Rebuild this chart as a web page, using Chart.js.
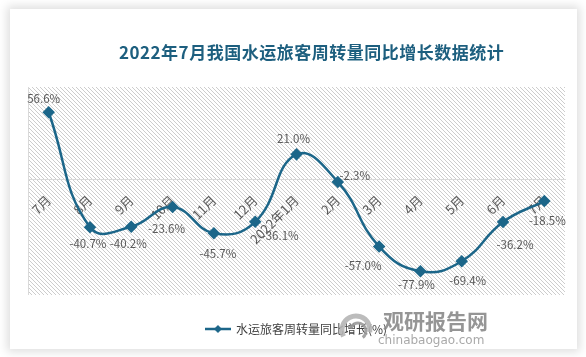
<!DOCTYPE html>
<html>
<head>
<meta charset="utf-8">
<script src="https://cdn.jsdelivr.net/npm/chart.js@4/dist/chart.umd.min.js"></script>
<style>
  html, body { margin: 0; padding: 0; background: #ffffff; }
  body { width: 586px; height: 357px; position: relative; overflow: hidden; }
  #card { position: absolute; left: 10px; top: 9px; width: 567px; height: 340px; background: #fff;
          box-shadow: 0 0 9px 3px rgba(0,0,0,0.13); }
  #card canvas { position: absolute; left: 0; top: 0; }
  #title { position: absolute; left: 119px; top: 41px; font: bold 17px "Noto Sans CJK SC", sans-serif;
           color: #1d5f7f; line-height: 22px; white-space: nowrap; letter-spacing: 0.5px; }
</style>
</head>
<body>
<div id="card"><canvas id="c" width="567" height="340"></canvas></div>
<div id="title">2022年7月我国水运旅客周转量同比增长数据统计</div>
<script>
// ---- data ----
const categories = ['7月','8月','9月','10月','11月','12月','2022年1月','2月','3月','4月','5月','6月','7月'];
const growthValues = [56.6, -40.7, -40.2, -23.6, -45.7, -36.1, 21.0, -2.3, -57.0, -77.9, -69.4, -36.2, -18.5];
const seriesName = '水运旅客周转量同比增长(%)';

const LINE = '#1c6689';

// label offsets (dx, dy) relative to each point, as in the reference
const labelOffsets = [[-5,-14],[-2,16],[-3,17],[-6,22],[4,20],[25,14],[-3,-16],[17,-6],[-16,19],[-4,13],[6,19],[12,23],[3,20]];

// hatch pattern
function makeHatch() {
  const t = document.createElement('canvas');
  t.width = 4; t.height = 4;
  const g = t.getContext('2d');
  g.fillStyle = '#ffffff'; g.fillRect(0,0,4,4);
  g.fillStyle = '#cdcdcd';
  for (let i = 0; i < 4; i++) g.fillRect(i, i, 1, 1);
  return t;
}
const hatchTile = makeHatch();

// legend icon: line with diamond
function makeLegendIcon() {
  const c = document.createElement('canvas');
  c.width = 26; c.height = 12;
  const g = c.getContext('2d');
  g.strokeStyle = LINE; g.lineWidth = 2.5;
  g.beginPath(); g.moveTo(0, 6); g.lineTo(26, 6); g.stroke();
  g.fillStyle = LINE;
  g.beginPath(); g.moveTo(13, 2); g.lineTo(17, 6); g.lineTo(13, 10); g.lineTo(9, 6); g.closePath(); g.fill();
  return c;
}
const legendIcon = makeLegendIcon();

const bgPlugin = {
  id: 'plotBg',
  beforeDraw(chart) {
    const {ctx, chartArea: a} = chart;
    ctx.save();
    ctx.fillStyle = ctx.createPattern(hatchTile, 'repeat');
    ctx.fillRect(a.left, a.top, a.right - a.left, a.bottom - a.top);
    ctx.strokeStyle = '#d9d9d9'; ctx.lineWidth = 1;
    ctx.beginPath(); ctx.moveTo(a.left + 0.5, a.top); ctx.lineTo(a.left + 0.5, a.bottom); ctx.stroke();
    ctx.restore();
  }
};

const labelPlugin = {
  id: 'valueLabels',
  afterDatasetsDraw(chart) {
    const {ctx} = chart;
    const meta = chart.getDatasetMeta(0);
    ctx.save();
    ctx.font = '11.5px "Noto Sans CJK SC", sans-serif';
    ctx.fillStyle = '#595959';
    ctx.textAlign = 'center';
    ctx.textBaseline = 'middle';
    meta.data.forEach((pt, i) => {
      const v = chart.data.datasets[0].data[i];
      const o = labelOffsets[i] || [0, -12];
      ctx.fillText(v.toFixed(1) + '%', pt.x + o[0], pt.y + o[1]);
    });
    ctx.restore();
  }
};

const watermarkPlugin = {
  id: 'watermark',
  afterDraw(chart) {
    const {ctx} = chart;
    ctx.save();
    ctx.globalAlpha = 0.9;
    // swirl logo
    ctx.strokeStyle = '#b5b5b5';
    ctx.lineWidth = 5;
    ctx.beginPath(); ctx.arc(346, 321, 14, Math.PI * 0.85, Math.PI * 2.05); ctx.stroke();
    ctx.strokeStyle = '#9a9a9a';
    ctx.lineWidth = 3;
    ctx.beginPath(); ctx.arc(348, 322, 8, Math.PI * 1.1, Math.PI * 2.3); ctx.stroke();
    ctx.fillStyle = '#8a8a8a';
    ctx.font = 'bold 21px "Noto Sans CJK SC", sans-serif';
    ctx.textAlign = 'left'; ctx.textBaseline = 'middle';
    ctx.fillText('观研报告网', 373, 312);
    ctx.fillStyle = '#a0a0a0';
    ctx.font = '12px "DejaVu Sans", sans-serif';
    ctx.fillText('chinabaogao.com', 368, 332);
    ctx.restore();
  }
};

new Chart(document.getElementById('c'), {
  type: 'line',
  data: {
    labels: categories,
    datasets: [{
      label: seriesName,
      data: growthValues,
      borderColor: LINE,
      backgroundColor: LINE,
      borderWidth: 2.5,
      tension: 0.45,
      pointStyle: 'rectRot',
      pointRadius: 4.5,
      pointBackgroundColor: LINE,
      pointBorderColor: LINE,
      fill: false
    }]
  },
  options: {
    responsive: false,
    animation: false,
    layout: { padding: { left: 18, right: 12, top: 78, bottom: 4 } },
    scales: {
      x: {
        type: 'category',
        offset: true,
        position: { y: 0 },
        grid: { display: false, drawTicks: false, tickLength: 0 },
        border: { display: true, color: '#d9d9d9', width: 1 },
        ticks: {
          autoSkip: false,
          maxRotation: 45, minRotation: 45,
          color: '#595959',
          padding: 13,
          font: { size: 13, family: '"Noto Sans CJK SC", sans-serif' }
        }
      },
      y: { display: false, min: -98, max: 78 }
    },
    plugins: {
      title: { display: false },
      tooltip: { enabled: false },
      legend: {
        display: true,
        position: 'bottom',
        labels: {
          usePointStyle: true,
          pointStyleWidth: 24,
          padding: 28,
          color: '#404040',
          font: { size: 12, family: '"Noto Sans CJK SC", sans-serif' },
          generateLabels(chart) {
            const ds = chart.data.datasets[0];
            return [{ text: ds.label, pointStyle: legendIcon, fillStyle: LINE, strokeStyle: LINE,
                      lineWidth: 0, hidden: false, datasetIndex: 0, fontColor: '#404040' }];
          }
        }
      }
    }
  },
  plugins: [bgPlugin, labelPlugin, watermarkPlugin]
});
</script>
</body>
</html>
